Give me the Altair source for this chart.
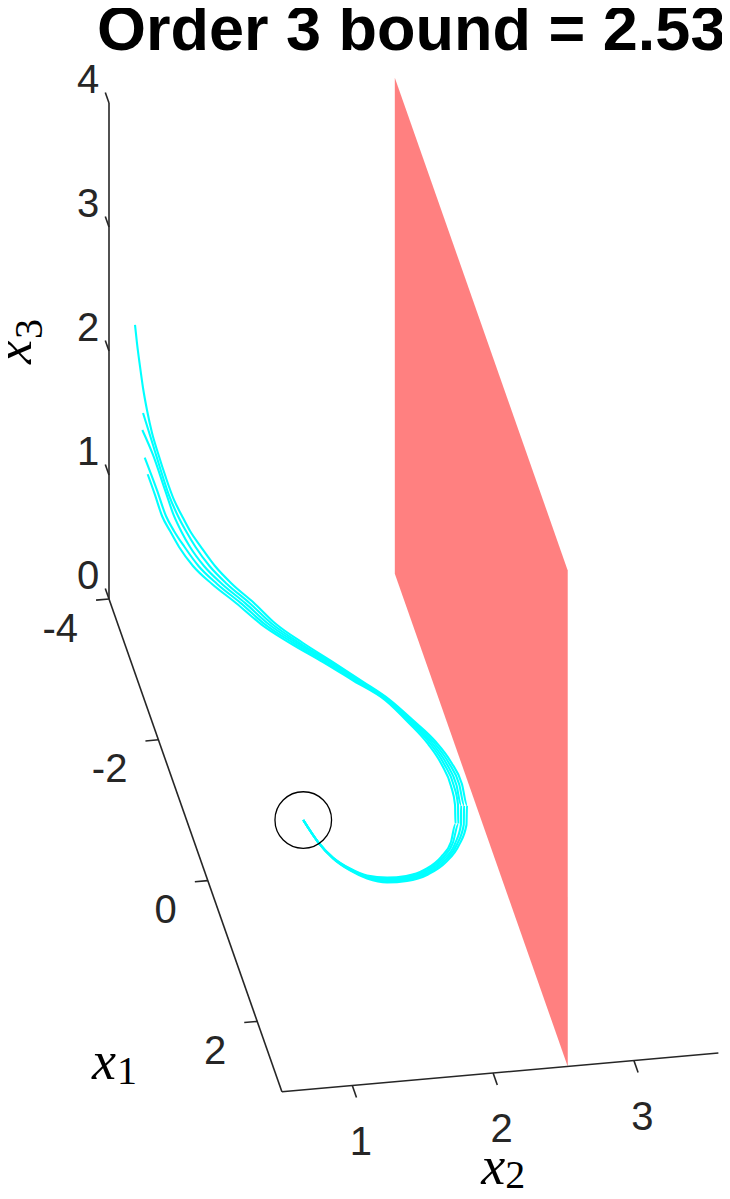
import altair as alt
import pandas as pd

# ---------------- data ----------------
TITLE = "Order 3 bound = 2.53"
BOUND_X2 = 2.53                      # plane x2 = bound
X1_LIM = [-4.0, 3.0]
X2_LIM = [0.5, 3.6]
X3_LIM = [0.0, 4.0]
X1_TICKS = [-4, -2, 0, 2]
X2_TICKS = [1, 2, 3]
X3_TICKS = [0, 1, 2, 3, 4]

TRAJ_X1 = 0.0                        # depth plane used for the sampled trajectories
X0_CENTER = [0.0, 1.178, 0.420]      # initial point (circle)

A_X2 = [1.178, 1.283, 1.389, 1.510, 1.631, 1.773, 1.915, 2.064, 2.192, 2.284, 2.337, 2.341,
        2.305, 2.227, 2.114, 1.964, 1.794, 1.595, 1.389, 1.176, 0.984, 0.828, 0.672, 0.551,
        0.452, 0.374, 0.317, 0.260, 0.203, 0.146, 0.104, 0.068, 0.040, 0.018, -0.003, -0.017]
A_X3 = [0.420, 0.232, 0.089, -0.020, -0.097, -0.144, -0.146, -0.108, -0.021, 0.107, 0.263, 0.424,
        0.597, 0.782, 0.963, 1.139, 1.326, 1.499, 1.673, 1.848, 2.020, 2.206, 2.375, 2.532,
        2.695, 2.832, 2.959, 3.094, 3.277, 3.484, 3.650, 3.839, 4.019, 4.199, 4.386, 4.533]

B_X2 = [1.178, 1.283, 1.389, 1.510, 1.631, 1.773, 1.913, 2.059, 2.183, 2.270, 2.318, 2.320,
        2.286, 2.211, 2.102, 1.955, 1.785, 1.581, 1.371, 1.153, 0.957, 0.796, 0.636, 0.512,
        0.413, 0.345, 0.288, 0.224, 0.161, 0.111, 0.040]
B_X3 = [0.420, 0.232, 0.091, -0.016, -0.091, -0.134, -0.136, -0.098, -0.010, 0.115, 0.267, 0.426,
        0.595, 0.778, 0.958, 1.136, 1.327, 1.501, 1.675, 1.850, 2.023, 2.209, 2.379, 2.536,
        2.699, 2.835, 2.962, 3.137, 3.362, 3.552, 3.817]

C_X2 = [1.178, 1.283, 1.389, 1.510, 1.631, 1.773, 1.912, 2.054, 2.174, 2.256, 2.298, 2.299,
        2.266, 2.195, 2.089, 1.946, 1.776, 1.567, 1.354, 1.130, 0.931, 0.764, 0.601, 0.473,
        0.374, 0.310, 0.260, 0.196, 0.111, 0.035]
C_X3 = [0.420, 0.232, 0.093, -0.012, -0.085, -0.124, -0.126, -0.087, 0.001, 0.122, 0.271, 0.429,
        0.593, 0.773, 0.954, 1.133, 1.328, 1.502, 1.677, 1.853, 2.026, 2.213, 2.382, 2.540,
        2.703, 2.839, 2.965, 3.181, 3.472, 3.681]

D_X2 = [1.178, 1.283, 1.389, 1.510, 1.631, 1.773, 1.910, 2.048, 2.165, 2.241, 2.279, 2.277,
        2.247, 2.179, 2.077, 1.937, 1.767, 1.552, 1.336, 1.107, 0.904, 0.732, 0.566, 0.434,
        0.335, 0.260, 0.203, 0.139, 0.052]
D_X3 = [0.420, 0.232, 0.095, -0.008, -0.079, -0.114, -0.115, -0.077, 0.012, 0.130, 0.275, 0.431,
        0.591, 0.769, 0.949, 1.130, 1.329, 1.504, 1.678, 1.855, 2.028, 2.216, 2.386, 2.544,
        2.707, 2.844, 2.970, 3.186, 3.457]

E_X2 = [1.178, 1.283, 1.389, 1.510, 1.631, 1.773, 1.908, 2.043, 2.156, 2.227, 2.259, 2.256,
        2.227, 2.163, 2.064, 1.928, 1.758, 1.538, 1.318, 1.084, 0.877, 0.700, 0.530, 0.395,
        0.296, 0.232, 0.175, 0.125, 0.073]
E_X3 = [0.420, 0.232, 0.097, -0.004, -0.073, -0.104, -0.105, -0.066, 0.023, 0.137, 0.279, 0.433,
        0.589, 0.764, 0.944, 1.127, 1.330, 1.505, 1.680, 1.857, 2.031, 2.219, 2.389, 2.548,
        2.711, 2.846, 2.973, 3.148, 3.320]

STRANDS = {"A": (A_X2, A_X3), "B": (B_X2, B_X3), "C": (C_X2, C_X3),
           "D": (D_X2, D_X3), "E": (E_X2, E_X3)}

# ---------------- orthographic camera (screen units per data unit) ----------------
VIEW_ORIGIN = (109.0, 599.0)   # where the (x1min, x2min, x3min) corner lands
E1 = (24.7, 70.4)
E2 = (140.8, -12.5)
E3 = (0.0, -124.0)


def proj(x1, x2, x3):
    d1, d2, d3 = x1 - X1_LIM[0], x2 - X2_LIM[0], x3 - X3_LIM[0]
    return (VIEW_ORIGIN[0] + E1[0] * d1 + E2[0] * d2 + E3[0] * d3,
            VIEW_ORIGIN[1] + E1[1] * d1 + E2[1] * d2 + E3[1] * d3)


W, H = 714, 1183
xs = alt.Scale(domain=[8, 8 + W], nice=False, zero=False)
ys = alt.Scale(domain=[8, 8 + H], nice=False, zero=False, reverse=True)
X = lambda f: alt.X(f, type="quantitative", scale=xs, axis=None)
Y = lambda f: alt.Y(f, type="quantitative", scale=ys, axis=None)

AXIS_COLOR = "#262626"

# plane x2 = bound
plane_rows = []
for x1 in X1_LIM:
    u, vt = proj(x1, BOUND_X2, X3_LIM[1])
    _, vb = proj(x1, BOUND_X2, X3_LIM[0])
    plane_rows.append({"u": u, "vt": vt, "vb": vb})
plane = alt.Chart(pd.DataFrame(plane_rows)).mark_area(
    color="#FF8080", opacity=1, orient="vertical").encode(x=X("u"), y=Y("vt"), y2="vb:Q")

# axis lines and ticks
segs = []
def seg(p, q):
    (u1, v1), (u2, v2) = proj(*p), proj(*q)
    segs.append({"u": u1, "v": v1, "u2": u2, "v2": v2})

seg((X1_LIM[0], X2_LIM[0], X3_LIM[0]), (X1_LIM[0], X2_LIM[0], X3_LIM[1]))   # x3 axis
seg((X1_LIM[0], X2_LIM[0], X3_LIM[0]), (X1_LIM[1], X2_LIM[0], X3_LIM[0]))   # x1 axis
seg((X1_LIM[1], X2_LIM[0], X3_LIM[0]), (X1_LIM[1], X2_LIM[1], X3_LIM[0]))   # x2 axis
for t in X3_TICKS:
    seg((X1_LIM[0], X2_LIM[0], t), (X1_LIM[0] - 0.15, X2_LIM[0], t))
for t in X1_TICKS:
    seg((t, X2_LIM[0], X3_LIM[0]), (t, X2_LIM[0] - 0.092, X3_LIM[0]))
for t in X2_TICKS:
    seg((X1_LIM[1], t, X3_LIM[0]), (X1_LIM[1] + 0.17, t, X3_LIM[0]))
rules = alt.Chart(pd.DataFrame(segs)).mark_rule(
    color=AXIS_COLOR, strokeWidth=1.6).encode(x=X("u"), y=Y("v"), x2="u2:Q", y2="v2:Q")


def label_df(points, texts):
    rows = []
    for p, s in zip(points, texts):
        u, v = proj(*p)
        rows.append({"u": u, "v": v, "t": s})
    return pd.DataFrame(rows)


# tick labels
TICK_FONT = dict(font="Liberation Sans", fontSize=40, color=AXIS_COLOR, baseline="alphabetic")
lab3 = alt.Chart(label_df([(X1_LIM[0], X2_LIM[0], t) for t in X3_TICKS], [str(t) for t in X3_TICKS])
                 ).mark_text(align="center", dx=-21, dy=-10, **TICK_FONT).encode(x=X("u"), y=Y("v"), text="t:N")
lab1 = alt.Chart(label_df([(t, X2_LIM[0], X3_LIM[0]) for t in X1_TICKS], [str(t) for t in X1_TICKS])
                 ).mark_text(align="right", dx=-31, dy=42.5, **TICK_FONT).encode(x=X("u"), y=Y("v"), text="t:N")
lab2 = alt.Chart(label_df([(X1_LIM[1], t, X3_LIM[0]) for t in X2_TICKS], [str(t) for t in X2_TICKS])
                 ).mark_text(align="center", dx=8.5, dy=69, **TICK_FONT).encode(x=X("u"), y=Y("v"), text="t:N")

# axis titles (italic x with subscript)
LBL = dict(font="Liberation Serif", color="black", baseline="alphabetic")
def axis_title(anchor, sub, angle, dx_main, dy_main, dx_sub, dy_sub):
    df = label_df([anchor], ["x"])
    dfs = label_df([anchor], [sub])
    kw = {} if angle == 0 else {"angle": angle}
    main = alt.Chart(df).mark_text(align="right", fontSize=54, fontStyle="italic", dx=dx_main, dy=dy_main,
                                   **kw, **LBL).encode(x=X("u"), y=Y("v"), text="t:N")
    subm = alt.Chart(dfs).mark_text(align="left", fontSize=40, dx=dx_sub, dy=dy_sub,
                                    **kw, **LBL).encode(x=X("u"), y=Y("v"), text="t:N")
    return main + subm

t2 = axis_title((X1_LIM[1], 2.05, X3_LIM[0]), "2", 0, 5, 112, 5, 116)
t1 = axis_title((X1_LIM[1], X2_LIM[0], X3_LIM[0]), "1", 0, -166, -12.5, -165, -7.5)
t3 = axis_title((X1_LIM[0], X2_LIM[0], 2.0), "3", 270, 11, -78, 12, -67)

# chart title, anchored above the top of the x3 axis
title = alt.Chart(label_df([(X1_LIM[0], X2_LIM[0], X3_LIM[1])], [TITLE])).mark_text(
    align="left", baseline="alphabetic", dx=-12, dy=-53, font="Liberation Sans",
    fontSize=63, fontWeight="bold", color="black").encode(x=X("u"), y=Y("v"), text="t:N")

# trajectories
traj_rows = []
for name, (x2s, x3s) in STRANDS.items():
    for i, (a, b) in enumerate(zip(x2s, x3s)):
        u, v = proj(TRAJ_X1, a, b)
        traj_rows.append({"strand": name, "i": i, "u": u, "v": v})
traj = alt.Chart(pd.DataFrame(traj_rows)).mark_line(
    color="#00FFFF", strokeWidth=2.1, interpolate="monotone").encode(
    x=X("u"), y=Y("v"), detail="strand:N", order="i:Q")

# initial set circle
cu, cv = proj(*X0_CENTER)
circ = alt.Chart(pd.DataFrame([{"u": cu, "v": cv}])).mark_point(
    shape="circle", size=3204, filled=False, color="black", strokeWidth=1.3, opacity=1
).encode(x=X("u"), y=Y("v"))

chart = alt.layer(plane, traj, circ, rules, lab1, lab2, lab3, t1, t2, t3, title).properties(
    width=W, height=H,
    padding=0,
    autosize=alt.AutoSizeParams(type="none"),
).configure_view(stroke=None)

chart.save("out.html", embed_options={"renderer": "svg", "actions": False})
